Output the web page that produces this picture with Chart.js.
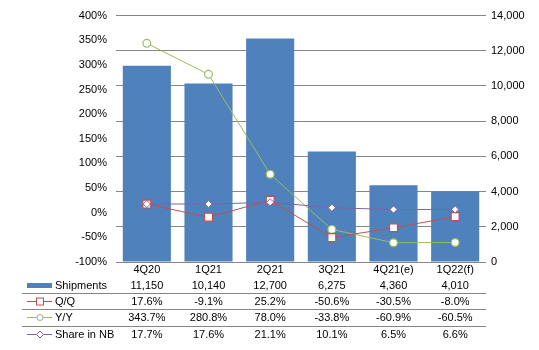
<!DOCTYPE html>
<html>
<head>
<meta charset="utf-8">
<script src="https://cdn.jsdelivr.net/npm/chart.js@4"></script>
<style>
  html, body { margin: 0; padding: 0; background: #fff; }
  #wrap { width: 539px; height: 350px; }
</style>
</head>
<body>
<div id="wrap"><canvas id="chart" width="539" height="350"></canvas></div>
<script>
// data
const quarters = ['4Q20', '1Q21', '2Q21', '3Q21', '4Q21(e)', '1Q22(f)'];
const shipments = [11150, 10140, 12700, 6275, 4360, 4010];
const qoq = [17.6, -9.1, 25.2, -50.6, -30.5, -8.0];
const yoy = [343.7, 280.8, 78.0, -33.8, -60.9, -60.5];
const shareNB = [17.7, 17.6, 21.1, 10.1, 6.5, 6.6];

const FONT = "'Liberation Sans', Arial, sans-serif";
Chart.defaults.font.family = FONT;
Chart.defaults.font.size = 11;
Chart.defaults.color = '#000';

const BLUE = '#4F81BD', RED = '#C0504D', GREEN = '#9BBB59', PURPLE = '#8064A2';

// table under the plot: category row + one row per series
const tablePlugin = {
    id: 'dataTable',
    afterDraw(chart) {
        const c = chart.ctx;
        const x = chart.scales.x;
        const right = chart.chartArea.right;
        c.save();
        c.font = '11px ' + FONT;
        c.fillStyle = '#000';
        c.textBaseline = 'middle';
        c.textAlign = 'center';

        const rows = [
            { y: 285.5, vals: shipments.map(v => v.toLocaleString('en-US')) },
            { y: 302, vals: qoq.map(v => v.toFixed(1) + '%') },
            { y: 318, vals: yoy.map(v => v.toFixed(1) + '%') },
            { y: 334.5, vals: shareNB.map(v => v.toFixed(1) + '%') }
        ];
        quarters.forEach((q, i) => c.fillText(q, x.getPixelForValue(i), 270));
        rows.forEach(r => r.vals.forEach((t, i) => c.fillText(t, x.getPixelForValue(i), r.y)));

        // separators
        c.strokeStyle = '#868686';
        c.lineWidth = 1;
        [293.5, 309.5, 326.5].forEach(y => {
            c.beginPath(); c.moveTo(22, y); c.lineTo(right, y); c.stroke();
        });

        // legend keys
        c.textAlign = 'left';
        c.fillStyle = BLUE;
        c.fillRect(27, 283, 25, 5);
        const keyLine = (y, col) => {
            c.strokeStyle = col;
            c.beginPath(); c.moveTo(27, y); c.lineTo(52, y); c.stroke();
        };
        keyLine(301.5, RED);
        c.fillStyle = '#fff';
        c.fillRect(36.5, 298, 7, 7); c.strokeRect(36.5, 298, 7, 7);
        keyLine(317.5, GREEN);
        c.beginPath(); c.arc(40, 317.5, 3, 0, Math.PI * 2); c.fill(); c.stroke();
        keyLine(334.5, PURPLE);
        c.beginPath();
        c.moveTo(40, 331); c.lineTo(43.5, 334.5); c.lineTo(40, 338); c.lineTo(36.5, 334.5); c.closePath();
        c.fill(); c.stroke();

        c.fillStyle = '#000';
        c.fillText('Shipments', 55, 285.5);
        c.fillText('Q/Q', 55, 302);
        c.fillText('Y/Y', 55, 318);
        c.fillText('Share in NB', 55, 334.5);
        c.restore();
    }
};

new Chart(document.getElementById('chart').getContext('2d'), {
    data: {
        labels: quarters,
        datasets: [{
            type: 'line',
            label: 'Q/Q',
            data: qoq,
            yAxisID: 'yL',
            borderColor: RED,
            borderWidth: 1,
            pointStyle: 'rect',
            pointRadius: 5.6,
            pointBackgroundColor: '#fff',
            pointBorderColor: RED,
            pointBorderWidth: 1.2,
            order: 1
        }, {
            type: 'line',
            label: 'Share in NB',
            data: shareNB,
            yAxisID: 'yL',
            borderColor: PURPLE,
            borderWidth: 1,
            pointStyle: 'rectRot',
            pointRadius: 3.6,
            pointBackgroundColor: '#fff',
            pointBorderColor: PURPLE,
            pointBorderWidth: 1,
            order: 0
        }, {
            type: 'line',
            label: 'Y/Y',
            data: yoy,
            yAxisID: 'yL',
            borderColor: GREEN,
            borderWidth: 1,
            pointStyle: 'circle',
            pointRadius: 3.9,
            pointBackgroundColor: '#fff',
            pointBorderColor: GREEN,
            pointBorderWidth: 1.2,
            order: 2
        }, {
            type: 'bar',
            label: 'Shipments',
            data: shipments,
            yAxisID: 'yR',
            backgroundColor: BLUE,
            categoryPercentage: 1,
            barPercentage: 0.78,
            order: 10
        }]
    },
    options: {
        responsive: false,
        animation: false,
        layout: { padding: { top: 14, bottom: 88 } },
        plugins: { legend: { display: false }, tooltip: { enabled: false } },
        scales: {
            x: {
                display: false
            },
            yL: {
                position: 'left',
                min: -100,
                max: 400,
                ticks: { stepSize: 50, padding: 9, callback: v => v + '%' },
                grid: { display: false, drawTicks: false },
                border: { display: false },
                afterFit: s => { s.width = 116; }
            },
            yR: {
                position: 'right',
                min: 0,
                max: 14000,
                ticks: { stepSize: 2000, padding: 5, callback: v => v.toLocaleString('en-US') },
                grid: { color: '#868686', drawTicks: false },
                border: { display: false },
                afterFit: s => { s.width = 53; }
            }
        }
    },
    plugins: [tablePlugin]
});
</script>
</body>
</html>
